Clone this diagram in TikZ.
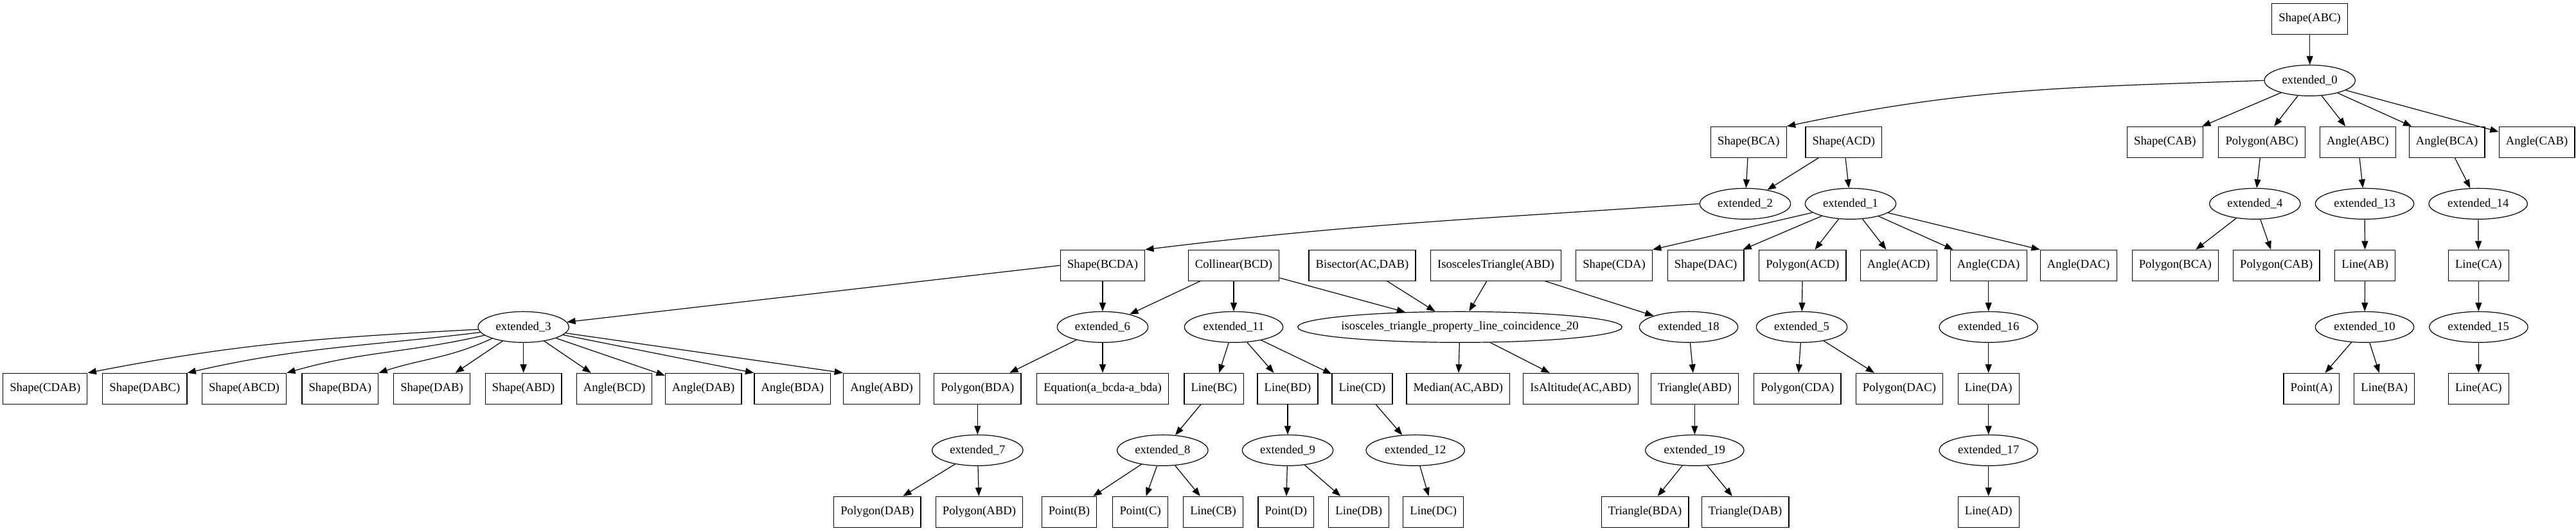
\documentclass[tikz,border=0pt]{standalone}
\usepackage{fontspec}
\setmainfont{Liberation Serif}
\usetikzlibrary{shapes.geometric,arrows.meta}
\tikzset{
 gbox/.style={draw, rectangle, line width=0.9pt, minimum height=36pt, minimum width=54pt, inner xsep=8pt, inner ysep=0pt, font=\fontsize{14pt}{16pt}\selectfont},
 gell/.style={draw, ellipse, line width=0.9pt, minimum height=36pt, minimum width=106pt, inner sep=0pt, font=\fontsize{14pt}{16pt}\selectfont},
 gellw/.style={gell, minimum width=115pt},
 garr/.style={-{Triangle[length=10pt,width=7.5pt]}, line width=0.9pt},
}
\newcommand\zw[1]{\makebox[0pt]{#1}}
\begin{document}
\begin{tikzpicture}[x=1pt,y=1pt]
\path[fill=white,use as bounding box] (0,0) rectangle (3006.75,-620.25);
% level 0-1
\node[gbox] (SABC) at (2696,-22) {Shape(ABC)};
\node[gell] (e0) at (2696,-94) {\zw{extended\_0}};
% level 2
\node[gbox] (SBCA) at (2041,-166) {Shape(BCA)};
\node[gbox] (SACD) at (2152,-166) {Shape(ACD)};
\node[gbox] (SCAB) at (2527,-166) {Shape(CAB)};
\node[gbox] (PABC) at (2640,-166) {Polygon(ABC)};
\node[gbox] (AABC) at (2752,-166) {Angle(ABC)};
\node[gbox] (ABCA) at (2856,-166) {Angle(BCA)};
\node[gbox] (ACAB) at (2961,-166) {Angle(CAB)};
% level 3
\node[gell] (e2) at (2037,-238) {\zw{extended\_2}};
\node[gell] (e1) at (2160,-238) {\zw{extended\_1}};
\node[gell] (e4) at (2632,-238) {\zw{extended\_4}};
\node[gellw] (e13) at (2760,-238) {\zw{extended\_13}};
\node[gellw] (e14) at (2892.5,-238) {\zw{extended\_14}};
% level 4
\node[gbox] (SBCDA) at (1287,-310) {Shape(BCDA)};
\node[gbox] (Col) at (1440,-310) {Collinear(BCD)};
\node[gbox] (Bis) at (1590,-310) {Bisector(AC,DAB)};
\node[gbox] (IsoT) at (1746,-310) {IsoscelesTriangle(ABD)};
\node[gbox] (SCDA) at (1884,-310) {Shape(CDA)};
\node[gbox] (SDAC) at (1991,-310) {Shape(DAC)};
\node[gbox] (PACD) at (2104,-310) {Polygon(ACD)};
\node[gbox] (AACD) at (2216,-310) {Angle(ACD)};
\node[gbox] (ACDA) at (2321,-310) {Angle(CDA)};
\node[gbox] (ADAC) at (2426,-310) {Angle(DAC)};
\node[gbox] (PBCA) at (2539,-310) {Polygon(BCA)};
\node[gbox] (PCAB) at (2657,-310) {Polygon(CAB)};
\node[gbox] (LAB) at (2760.5,-310) {Line(AB)};
\node[gbox] (LCA) at (2893,-310) {Line(CA)};
% level 5
\node[gell] (e3) at (611,-382) {\zw{extended\_3}};
\node[gell] (e6) at (1287,-382) {\zw{extended\_6}};
\node[gellw] (e11) at (1440,-382) {\zw{extended\_11}};
\node[gell, minimum width=378.5pt] (iso) at (1704,-382) {\zw{isosceles\_triangle\_property\_line\_coincidence\_20}};
\node[gellw] (e18) at (1971,-382) {\zw{extended\_18}};
\node[gell] (e5) at (2103,-382) {\zw{extended\_5}};
\node[gellw] (e16) at (2321,-382) {\zw{extended\_16}};
\node[gellw] (e10) at (2760,-382) {\zw{extended\_10}};
\node[gellw] (e15) at (2893,-382) {\zw{extended\_15}};
% level 6
\node[gbox] (SCDAB) at (52.7,-454) {Shape(CDAB)};
\node[gbox] (SDABC) at (169,-454) {Shape(DABC)};
\node[gbox] (SABCD) at (285,-454) {Shape(ABCD)};
\node[gbox] (SBDA) at (397,-454) {Shape(BDA)};
\node[gbox] (SDAB) at (504,-454) {Shape(DAB)};
\node[gbox] (SABD) at (611,-454) {Shape(ABD)};
\node[gbox] (ABCD) at (717,-454) {Angle(BCD)};
\node[gbox] (ADAB) at (821,-454) {Angle(DAB)};
\node[gbox] (ABDA) at (925,-454) {Angle(BDA)};
\node[gbox] (AABD) at (1029,-454) {Angle(ABD)};
\node[gbox] (PBDA) at (1141,-454) {Polygon(BDA)};
\node[gbox] (Eq) at (1287,-454) {Equation(a\_bcda-a\_bda)};
\node[gbox] (LBC) at (1417,-454) {Line(BC)};
\node[gbox] (LBD) at (1503,-454) {Line(BD)};
\node[gbox] (LCD) at (1590,-454) {Line(CD)};
\node[gbox] (Med) at (1702,-454) {Median(AC,ABD)};
\node[gbox] (IsAlt) at (1845,-454) {IsAltitude(AC,ABD)};
\node[gbox] (TABD) at (1978,-454) {Triangle(ABD)};
\node[gbox] (PCDA) at (2098,-454) {Polygon(CDA)};
\node[gbox] (PDAC) at (2217,-454) {Polygon(DAC)};
\node[gbox] (LDA) at (2321,-454) {Line(DA)};
\node[gbox] (PtA) at (2698,-454) {Point(A)};
\node[gbox] (LBA) at (2783,-454) {Line(BA)};
\node[gbox] (LAC) at (2893,-454) {Line(AC)};
% level 7
\node[gell] (e7) at (1141,-526) {\zw{extended\_7}};
\node[gell] (e8) at (1357,-526) {\zw{extended\_8}};
\node[gell] (e9) at (1503,-526) {\zw{extended\_9}};
\node[gellw] (e12) at (1652,-526) {\zw{extended\_12}};
\node[gellw] (e19) at (1978,-526) {\zw{extended\_19}};
\node[gellw] (e17) at (2321,-526) {\zw{extended\_17}};
% level 8
\node[gbox] (PDAB) at (1024,-598) {Polygon(DAB)};
\node[gbox] (PABD) at (1143,-598) {Polygon(ABD)};
\node[gbox] (PtB) at (1248,-598) {Point(B)};
\node[gbox] (PtC) at (1331,-598) {Point(C)};
\node[gbox] (LCB) at (1416,-598) {Line(CB)};
\node[gbox] (PtD) at (1501,-598) {Point(D)};
\node[gbox] (LDB) at (1586,-598) {Line(DB)};
\node[gbox] (LDC) at (1673,-598) {Line(DC)};
\node[gbox] (TBDA) at (1920,-598) {Triangle(BDA)};
\node[gbox] (TDAB) at (2037,-598) {Triangle(DAB)};
\node[gbox] (LAD) at (2321,-598) {Line(AD)};
% edges
\draw[garr] (SABC) -- (e0);
\draw[garr] (e0.west) to[out=182,in=12] (SBCA.north east);
\draw[garr] (e0) -- (SCAB);
\draw[garr] (e0) -- (PABC);
\draw[garr] (e0) -- (AABC);
\draw[garr] (e0) -- (ABCA);
\draw[garr] (e0) -- (ACAB);
\draw[garr] (SBCA) -- (e2);
\draw[garr] (SACD) -- (e2);
\draw[garr] (SACD) -- (e1);
\draw[garr] (PABC) -- (e4);
\draw[garr] (AABC) -- (e13);
\draw[garr] (ABCA) -- (e14);
\draw[garr] (e2.west) to[out=184,in=7] (SBCDA.north east);
\draw[garr] (e1) -- (SCDA.north east);
\draw[garr] (e1) -- (SDAC);
\draw[garr] (e1) -- (PACD);
\draw[garr] (e1) -- (AACD);
\draw[garr] (e1) -- (ACDA);
\draw[garr] (e1) -- (ADAC.north west);
\draw[garr] (e4) -- (PBCA);
\draw[garr] (e4) -- (PCAB);
\draw[garr] (e13) -- (LAB);
\draw[garr] (LAB) -- (e10);
\draw[garr] (e10) -- (PtA);
\draw[garr] (e10) -- (LBA);
\draw[garr] (e14) -- (LCA);
\draw[garr] (LCA) -- (e15);
\draw[garr] (e15) -- (LAC);
\draw[garr] (SBCDA.west) -- (e3);
\draw[garr] (SBCDA) -- (e6);
\draw[garr] (Col) -- (e6);
\draw[garr] (Col) -- (e11);
\draw[garr] (Col) -- (iso);
\draw[garr] (Bis) -- (iso);
\draw[garr] (IsoT) -- (iso);
\draw[garr] (IsoT) -- (e18);
\draw[garr] (e3.183) to[out=183,in=11] (SCDAB.north east);
\draw[garr] (e3.187) to[out=187,in=13] (SDABC.north east);
\draw[garr] (e3.192) to[out=193,in=16] (SABCD.north east);
\draw[garr] (e3.200) to[out=205,in=18] (SBDA.north east);
\draw[garr] (e3) -- (SDAB);
\draw[garr] (e3) -- (SABD);
\draw[garr] (e3) -- (ABCD);
\draw[garr] (e3) -- (ADAB);
\draw[garr] (e3) -- (ABDA.north west);
\draw[garr] (e3) -- (AABD.north west);
\draw[garr] (e6) -- (PBDA);
\draw[garr] (e6) -- (Eq);
\draw[garr] (e11) -- (LBC);
\draw[garr] (e11) -- (LBD);
\draw[garr] (e11) -- (LCD);
\draw[garr] (iso) -- (Med);
\draw[garr] (iso) -- (IsAlt);
\draw[garr] (e18) -- (TABD);
\draw[garr] (TABD) -- (e19);
\draw[garr] (e19) -- (TBDA);
\draw[garr] (e19) -- (TDAB);
\draw[garr] (PACD) -- (e5);
\draw[garr] (e5) -- (PCDA);
\draw[garr] (e5) -- (PDAC);
\draw[garr] (ACDA) -- (e16);
\draw[garr] (e16) -- (LDA);
\draw[garr] (LDA) -- (e17);
\draw[garr] (e17) -- (LAD);
\draw[garr] (PBDA) -- (e7);
\draw[garr] (e7) -- (PDAB);
\draw[garr] (e7) -- (PABD);
\draw[garr] (LBC) -- (e8);
\draw[garr] (e8) -- (PtB);
\draw[garr] (e8) -- (PtC);
\draw[garr] (e8) -- (LCB);
\draw[garr] (LBD) -- (e9);
\draw[garr] (e9) -- (PtD);
\draw[garr] (e9) -- (LDB);
\draw[garr] (LCD) -- (e12);
\draw[garr] (e12) -- (LDC);
\end{tikzpicture}
\end{document}
